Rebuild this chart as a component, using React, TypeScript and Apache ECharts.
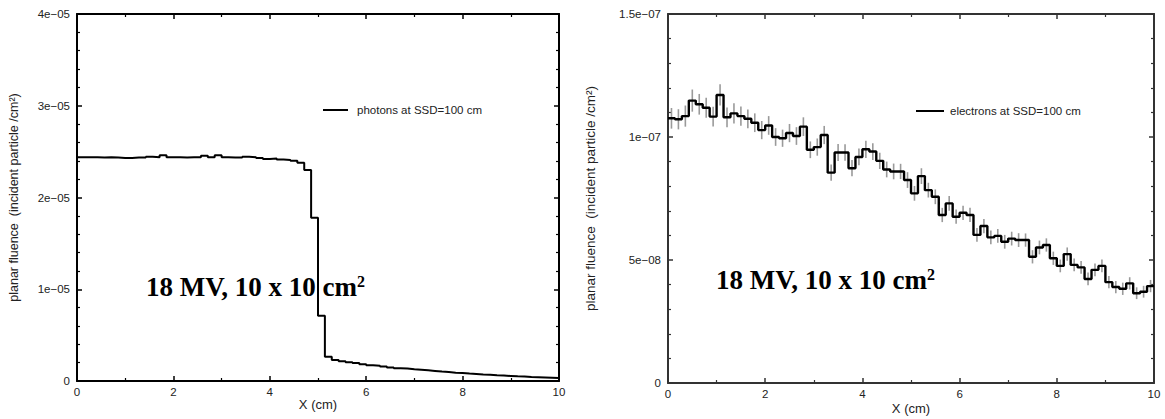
import React, { useEffect, useRef } from "react";
import * as echarts from "echarts";

// Histogram binning along X (cm)
const X_MAX = 10;
const BIN_COUNT = 70;

// Photon planar fluence per bin, in units of 1e-05 per cm^2
const photonFluence = [
  2.44, 2.44, 2.44, 2.435, 2.44, 2.435, 2.43, 2.43, 2.435, 2.435,
  2.445, 2.44, 2.46, 2.44, 2.44, 2.435, 2.44, 2.44, 2.455, 2.44,
  2.46, 2.44, 2.435, 2.435, 2.445, 2.44, 2.43, 2.42, 2.425, 2.415,
  2.41, 2.4, 2.38, 2.3, 1.78, 0.71, 0.265, 0.23, 0.215, 0.205,
  0.195, 0.182, 0.172, 0.165, 0.157, 0.148, 0.14, 0.135, 0.128, 0.122,
  0.116, 0.11, 0.103, 0.097, 0.091, 0.086, 0.081, 0.077, 0.072, 0.068,
  0.063, 0.059, 0.055, 0.051, 0.048, 0.044, 0.041, 0.038, 0.035, 0.032,
];

// Electron planar fluence per bin, in units of 1e-08 per cm^2
const electronFluence = [
  10.76, 10.72, 10.85, 11.48, 11.33, 11.19, 10.83, 11.71, 10.8, 10.96,
  10.85, 10.74, 10.58, 10.28, 10.47, 10.0, 9.95, 10.16, 10.04, 10.42,
  9.48, 9.59, 10.08, 8.55, 9.37, 9.37, 8.73, 9.19, 9.5, 9.41,
  9.03, 8.68, 8.6, 8.6, 8.25, 7.71, 8.41, 7.84, 7.57, 6.83,
  7.3, 6.76, 6.92, 6.83, 6.02, 6.38, 5.92, 5.98, 5.74, 5.87,
  5.81, 5.81, 5.13, 5.51, 5.61, 5.07, 4.76, 5.24, 4.8, 4.7,
  4.23, 4.6, 4.76, 4.1, 3.9, 3.83, 4.05, 3.65, 3.71, 3.94,
];

// Statistical uncertainty of the electron fluence, in units of 1e-08
const electronError = [
  0.42, 0.41, 0.43, 0.45, 0.42, 0.41, 0.4, 0.43, 0.4, 0.41,
  0.39, 0.38, 0.38, 0.37, 0.38, 0.36, 0.35, 0.37, 0.36, 0.38,
  0.34, 0.35, 0.37, 0.33, 0.35, 0.34, 0.33, 0.34, 0.35, 0.34,
  0.33, 0.32, 0.32, 0.31, 0.32, 0.3, 0.32, 0.3, 0.3, 0.29,
  0.3, 0.29, 0.29, 0.29, 0.28, 0.29, 0.28, 0.28, 0.28, 0.28,
  0.28, 0.27, 0.27, 0.28, 0.27, 0.27, 0.26, 0.27, 0.26, 0.26,
  0.26, 0.26, 0.26, 0.25, 0.25, 0.25, 0.25, 0.24, 0.24, 0.25,
];

// Tick labels
const xTickLabels = ["0", "2", "4", "6", "8", "10"];
const photonYTickLabels = ["0", "1e\u221205", "2e\u221205", "3e\u221205", "4e\u221205"];
const electronYTickLabels = ["0", "5e\u221208", "1e\u221207", "1.5e\u221207"];

const photonLabel = "photons at SSD=100 cm";
const electronLabel = "electrons at SSD=100 cm";
const yTitle = "planar fluence  (incident particle /cm\u00B2)";
const xTitle = "X (cm)";

const binWidth = X_MAX / BIN_COUNT;

// Points at left bin edges plus the closing right edge, drawn with step "end"
const stepPoints = (values: number[]) =>
  values
    .map((v, i) => [i * binWidth, v])
    .concat([[X_MAX, values[values.length - 1]]]);

const SANS = "Liberation Sans, Arial, Helvetica, sans-serif";
const SERIF = "Liberation Serif, Times New Roman, serif";

function xAxes(gridIndex: number, color: string, nameGap: number) {
  const common = {
    type: "value" as const,
    gridIndex,
    min: 0,
    max: X_MAX,
    interval: 2,
    splitLine: { show: false },
    axisLine: { show: true, onZero: false, lineStyle: { color, width: 2 } },
    axisTick: { show: true, inside: true, length: 5, lineStyle: { color, width: 1.5 } },
    minorTick: { show: true, splitNumber: 2, length: 3, lineStyle: { color, width: 1.2 } },
  };
  return [
    {
      ...common,
      position: "bottom",
      name: xTitle,
      nameLocation: "middle",
      nameGap,
      nameMoveOverlap: false,
      nameTextStyle: { fontFamily: SANS, fontSize: 13, color: "#222" },
      axisLabel: {
        fontFamily: SANS,
        fontSize: 11.5,
        color: "#222",
        margin: 5,
        formatter: (v: number) => xTickLabels[Math.round(v / 2)] ?? "",
      },
    },
    { ...common, position: "top", axisLabel: { show: false } },
  ];
}

function yAxes(
  gridIndex: number,
  color: string,
  max: number,
  interval: number,
  labels: string[],
  nameGap: number,
  nameSize: number
) {
  const common = {
    type: "value" as const,
    gridIndex,
    min: 0,
    max,
    interval,
    splitLine: { show: false },
    axisLine: { show: true, onZero: false, lineStyle: { color, width: 2 } },
    axisTick: { show: true, inside: true, length: 5, lineStyle: { color, width: 1.5 } },
    minorTick: { show: true, splitNumber: 5, length: 3, lineStyle: { color, width: 1.2 } },
  };
  return [
    {
      ...common,
      position: "left",
      name: yTitle,
      nameLocation: "middle",
      nameGap,
      nameMoveOverlap: false,
      nameRotate: 90,
      nameTextStyle: { fontFamily: SANS, fontSize: nameSize, color: "#222" },
      axisLabel: {
        fontFamily: SANS,
        fontSize: 11.5,
        color: "#222",
        margin: 7,
        formatter: (v: number) => labels[Math.round(v / interval)] ?? "",
      },
    },
    { ...common, position: "right", axisLabel: { show: false } },
  ];
}

function annotation(x: number, y: number) {
  return {
    type: "text",
    left: x,
    top: y,
    z: 100,
    style: {
      text: "{m|18 MV, 10 x 10 cm}{s|2}",
      rich: {
        m: { fontFamily: SERIF, fontWeight: "bold", fontSize: 27, fill: "#000", color: "#000" },
        s: {
          fontFamily: SERIF,
          fontWeight: "bold",
          fontSize: 16,
          fill: "#000",
          color: "#000",
          verticalAlign: "top",
        },
      },
    },
  };
}

export default function App() {
  const ref = useRef<HTMLDivElement>(null);

  useEffect(() => {
    if (!ref.current) return;
    const chart = echarts.init(ref.current, undefined, { renderer: "svg" });

    const electronBars = electronFluence.map((v, i) => [(i + 0.5) * binWidth, v, electronError[i]]);

    chart.setOption({
      animation: false,
      backgroundColor: "#fff",
      grid: [
        { left: 77, top: 14, width: 482, height: 367, outerBoundsMode: "none" },
        { left: 668, top: 14, width: 486, height: 369, outerBoundsMode: "none" },
      ],
      xAxis: [...xAxes(0, "#000", 17), ...xAxes(1, "#333", 19)],
      yAxis: [
        ...yAxes(0, "#000", 4, 1, photonYTickLabels, 57, 12.5),
        ...yAxes(1, "#333", 15, 5, electronYTickLabels, 71, 13.5),
      ],
      legend: [
        {
          data: [photonLabel],
          left: 318,
          top: 99,
          icon: "rect",
          itemWidth: 25,
          itemHeight: 2,
          selectedMode: false,
          textStyle: { fontFamily: SANS, fontSize: 11.5, color: "#222", padding: [0, 0, 0, 4] },
        },
        {
          data: [electronLabel],
          left: 911,
          top: 100,
          icon: "rect",
          itemWidth: 28,
          itemHeight: 2,
          selectedMode: false,
          textStyle: { fontFamily: SANS, fontSize: 11.5, color: "#222", padding: [0, 0, 0, 1] },
        },
      ],
      graphic: [annotation(146, 273), annotation(716, 266)],
      series: [
        {
          name: photonLabel,
          type: "line",
          xAxisIndex: 0,
          yAxisIndex: 0,
          step: "end",
          showSymbol: false,
          symbol: "none",
          data: stepPoints(photonFluence),
          lineStyle: { color: "#000", width: 2 },
          itemStyle: { color: "#000" },
          z: 5,
        },
        {
          name: "electron uncertainty",
          type: "custom",
          xAxisIndex: 2,
          yAxisIndex: 2,
          data: electronBars,
          encode: { x: 0, y: 1 },
          z: 3,
          renderItem: (_params: any, api: any) => {
            const x = api.value(0);
            const y = api.value(1);
            const e = api.value(2);
            const p1 = api.coord([x, y - e]);
            const p2 = api.coord([x, y + e]);
            return {
              type: "line",
              shape: { x1: p1[0], y1: p1[1], x2: p2[0], y2: p2[1] },
              style: { stroke: "#9a9a9a", lineWidth: 1.6 },
            };
          },
        },
        {
          name: electronLabel,
          type: "line",
          xAxisIndex: 2,
          yAxisIndex: 2,
          step: "end",
          showSymbol: false,
          symbol: "none",
          data: stepPoints(electronFluence),
          lineStyle: { color: "#000", width: 2.4 },
          itemStyle: { color: "#000" },
          z: 5,
        },
      ],
    });

    return () => chart.dispose();
  }, []);

  return (
    <div
      ref={ref}
      style={{ position: "absolute", left: 0, top: 0, width: 1165, height: 419, background: "#fff" }}
    />
  );
}
